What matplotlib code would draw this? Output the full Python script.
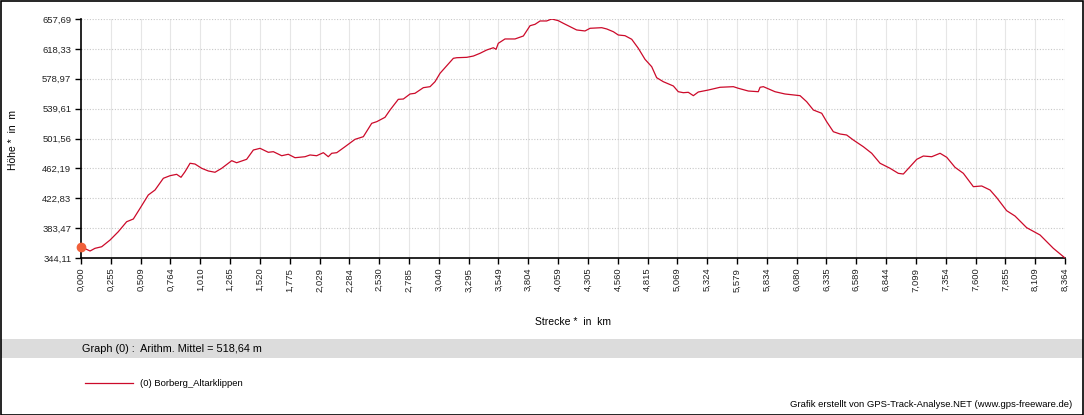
import numpy as np
import matplotlib
matplotlib.use("Agg")
from matplotlib import pyplot as plt
from matplotlib.patches import Rectangle

plt.rcParams['font.family'] = ['Liberation Sans', 'DejaVu Sans']

# elevation profile
dist_km = [
    0.000, 0.077, 0.119, 0.176, 0.247, 0.317, 0.388, 0.445, 0.502, 0.572,
    0.629, 0.700, 0.757, 0.813, 0.850, 0.884, 0.927, 0.969, 1.026, 1.082,
    1.139, 1.196, 1.281, 1.323, 1.408, 1.465, 1.522, 1.592, 1.635, 1.706,
    1.762, 1.819, 1.904, 1.947, 2.003, 2.060, 2.102, 2.131, 2.174, 2.244,
    2.329, 2.400, 2.471, 2.514, 2.584, 2.627, 2.697, 2.740, 2.797, 2.839,
    2.910, 2.967, 3.009, 3.052, 3.165, 3.194, 3.279, 3.335, 3.392, 3.448,
    3.505, 3.528, 3.547, 3.604, 3.689, 3.760, 3.817, 3.859, 3.902, 3.958,
    4.001, 4.057, 4.099, 4.157, 4.213, 4.284, 4.327, 4.426, 4.469, 4.525,
    4.567, 4.624, 4.681, 4.737, 4.794, 4.851, 4.893, 4.950, 5.035, 5.077,
    5.120, 5.162, 5.205, 5.247, 5.332, 5.432, 5.545, 5.587, 5.672, 5.757,
    5.772, 5.800, 5.899, 5.984, 6.112, 6.168, 6.225, 6.296, 6.338, 6.395,
    6.452, 6.508, 6.565, 6.650, 6.721, 6.792, 6.877, 6.947, 6.990, 7.047,
    7.104, 7.160, 7.231, 7.302, 7.359, 7.429, 7.500, 7.585, 7.656, 7.727,
    7.784, 7.868, 7.939, 8.038, 8.152, 8.265, 8.364,
]
elev_m = [
    358.9, 353.3, 356.8, 358.9, 367.7, 378.6, 391.7, 395.3, 409.3, 426.8,
    433.3, 448.7, 452.1, 453.9, 450.0, 457.3, 468.4, 467.4, 461.8, 458.3,
    456.6, 461.8, 471.8, 469.1, 473.6, 485.8, 488.0, 482.8, 483.6, 478.3,
    480.2, 475.7, 477.0, 479.3, 478.3, 482.3, 477.0, 481.5, 482.3, 490.1,
    499.8, 503.3, 520.8, 523.0, 528.7, 538.3, 552.3, 552.7, 559.3, 560.2,
    567.6, 568.9, 575.4, 586.5, 606.1, 606.9, 607.4, 609.1, 612.7, 617.0,
    620.0, 617.9, 625.8, 631.5, 631.5, 635.4, 648.9, 650.7, 655.1, 655.1,
    657.69, 655.5, 652.1, 647.6, 643.3, 642.0, 645.5, 646.3, 644.6, 641.0,
    636.7, 635.8, 631.1, 619.3, 604.8, 595.1, 580.7, 575.4, 569.8, 562.3,
    561.0, 561.5, 557.1, 561.9, 564.5, 568.1, 568.9, 566.8, 563.2, 562.3,
    568.1, 568.9, 562.3, 559.3, 557.1, 549.2, 538.3, 534.0, 523.0, 509.8,
    506.8, 505.5, 498.9, 490.1, 481.5, 468.4, 461.8, 455.2, 454.3, 463.9,
    473.6, 477.9, 477.0, 481.5, 476.2, 463.1, 455.2, 437.7, 438.6, 433.3,
    423.2, 406.2, 399.2, 383.9, 374.3, 356.8, 344.11,
]

y_min, y_max = 344.11, 657.69
x_max = 8.364
y_tick_labels = ['344,11', '383,47', '422,83', '462,19', '501,56',
                 '539,61', '578,97', '618,33', '657,69']
x_tick_labels = ['0,000', '0,255', '0,509', '0,764', '1,010', '1,265', '1,520',
                 '1,775', '2,029', '2,284', '2,530', '2,785', '3,040', '3,295',
                 '3,549', '3,804', '4,059', '4,305', '4,560', '4,815', '5,069',
                 '5,324', '5,579', '5,834', '6,080', '6,335', '6,589', '6,844',
                 '7,099', '7,354', '7,600', '7,855', '8,109', '8,364']
mean_text = 'Graph (0) :  Arithm. Mittel = 518,64 m'
track_name = '(0) Borberg_Altarklippen'
line_col = '#cc0a2a'

W, H = 1084, 415
fig = plt.figure(figsize=(W / 100, H / 100), dpi=100)
fig.patch.set_facecolor('white')

ax = fig.add_axes([81 / W, 1 - 258 / H, (1065 - 81) / W, (258 - 19) / H])
ax.set_xlim(0, x_max)
ax.set_ylim(y_min, y_max)

xt = np.linspace(0, x_max, len(x_tick_labels))
yt = np.linspace(y_min, y_max, len(y_tick_labels))
ax.set_xticks(xt)
ax.set_xticklabels(x_tick_labels, rotation=90, fontsize=6.8, color='#222222')
ax.set_yticks(yt)
ax.set_yticklabels(y_tick_labels, fontsize=6.8, color='#222222')
ax.tick_params(length=4, width=1, color='black', pad=3)

for v in xt[1:]:
    ax.axvline(v, color='#e6e6e6', lw=0.8, zorder=0)
for v in yt[1:]:
    ax.axhline(v, color='#c8c8c8', lw=0.8, ls=(0, (1, 1.5)), zorder=0)

for s in ['top', 'right']:
    ax.spines[s].set_visible(False)
ax.spines['left'].set_linewidth(1.2)
ax.spines['bottom'].set_linewidth(1.2)

ax.plot(dist_km, elev_m, color=line_col, lw=0.9, zorder=3)
ax.plot(dist_km[0], elev_m[0], 'o', color='#f0603a', ms=6, zorder=4, clip_on=False)

ax.set_xlabel('Strecke *  in  km', fontsize=7.5, labelpad=18)
fig.text(13 / W, 1 - 140 / H, 'Höhe *  in  m', fontsize=7.5, rotation=90,
         ha='center', va='center')

# gray band with mean value
fig.patches.append(Rectangle((1 / W, 1 - 358 / H), (W - 2) / W, 19 / H,
                             transform=fig.transFigure, facecolor='#dcdcdc',
                             edgecolor='none', zorder=0))
fig.text(82 / W, 1 - 349 / H, mean_text, fontsize=7.8, va='center', ha='left')

# legend entry
fig.lines.append(plt.Line2D([85 / W, 133 / W], [1 - 383 / H, 1 - 383 / H],
                            transform=fig.transFigure, color=line_col, lw=0.9))
fig.text(140 / W, 1 - 383 / H, track_name, fontsize=6.8, va='center', ha='left')

fig.text(1072 / W, 1 - 404 / H,
         'Grafik erstellt von GPS-Track-Analyse.NET (www.gps-freeware.de)',
         fontsize=6.8, va='center', ha='right')

# outer frame
fig.patches.append(Rectangle((0.5 / W, 0.5 / H), (W - 1.5) / W, (H - 1.5) / H,
                             transform=fig.transFigure, facecolor='none',
                             edgecolor='black', lw=1.2, zorder=10))

fig.savefig('out.png', dpi=100)
